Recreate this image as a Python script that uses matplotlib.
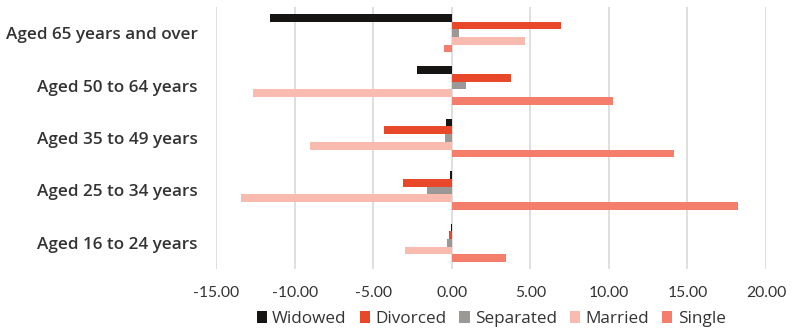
import numpy as np
import matplotlib
matplotlib.use("Agg")
from matplotlib import pyplot as plt
from matplotlib import transforms

# age groups, bottom to top as drawn
age_groups = ["Aged 16 to 24 years", "Aged 25 to 34 years", "Aged 35 to 49 years",
              "Aged 50 to 64 years", "Aged 65 years and over"]

# change per marital status, same order as age_groups
widowed = [-0.05, -0.08, -0.36, -2.20, -11.57]
divorced = [-0.15, -3.08, -4.33, 3.76, 6.94]
separated = [-0.27, -1.57, -0.40, 0.92, 0.47]
married = [-2.95, -13.38, -9.00, -12.65, 4.67]
single = [3.48, 18.20, 14.14, 10.28, -0.48]

series = ["Widowed", "Divorced", "Separated", "Married", "Single"]
values = [widowed, divorced, separated, married, single]
colors = ["#161513", "#e8472a", "#9b9896", "#f9bbb0", "#f47d6b"]

plt.rcParams["font.family"] = ["Open Sans", "DejaVu Sans"]
text_color = "#333333"

fig = plt.figure(figsize=(7.93, 3.31), dpi=100)
ax = fig.add_axes([216 / 793, 1 - 269 / 331, 550 / 793, 262 / 331])

y = np.arange(len(age_groups))
h = 0.147
for i, (name, vals, c) in enumerate(zip(series, values, colors)):
    # first series sits on top of each group
    offset = (2 - i) * h
    ax.barh(y + offset, vals, height=h, color=c, label=name, zorder=3)

ax.set_xlim(-15, 20)
ax.set_ylim(-0.5, 4.5)
ax.set_xticks(np.arange(-15, 21, 5))
ax.set_xticklabels([f"{v:.2f}" for v in np.arange(-15, 21, 5)],
                   fontsize=11.3, family=["Lato", "DejaVu Sans"], color=text_color)
ax.set_yticks(y)
ax.set_yticklabels(age_groups, fontsize=12.3, fontweight="semibold", color=text_color)
# nudge the category labels a little below the group centre
shift = transforms.ScaledTranslation(0, -3 / 100, fig.dpi_scale_trans)
for lbl in ax.get_yticklabels():
    lbl.set_transform(lbl.get_transform() + shift)
ax.tick_params(axis="both", length=0)
ax.tick_params(axis="y", pad=13)
ax.tick_params(axis="x", pad=12)
ax.grid(axis="x", color="#d9d9d9", linewidth=1.2, zorder=0)
for s in ax.spines.values():
    s.set_visible(False)

fig.legend(*ax.get_legend_handles_labels(), loc="center",
           bbox_to_anchor=(491 / 793, 12 / 331), ncol=5, frameon=False,
           fontsize=12.3, handlelength=0.62, handleheight=0.62, handletextpad=0.3,
           columnspacing=0.75, labelcolor=text_color)

fig.savefig("out.png", dpi=100)
